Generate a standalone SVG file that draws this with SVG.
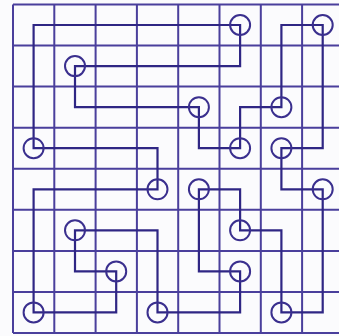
<svg xmlns="http://www.w3.org/2000/svg" width="339" height="336" viewBox="0 0 339 336">
<style>
.grid{stroke:#4a3f9c;stroke-width:2;fill:none}
.loop{stroke:#2f2684;stroke-width:2.2;fill:none;stroke-linejoin:miter}
.node circle{stroke:#3a2f8e;stroke-width:2;fill:none}
</style>
<rect width="339" height="336" fill="#fbfbfd"/>
<g id="grid" class="grid">
<path d="M13 4.5V333M54.3 4.5V333M95.6 4.5V333M136.9 4.5V333M178.2 4.5V333M219.5 4.5V333M260.8 4.5V333M302.1 4.5V333"/>
<path d="M13 4.5H339M13 45.6H339M13 86.6H339M13 127.7H339M13 168.7H339M13 209.8H339M13 250.9H339M13 291.9H339M13 333H339"/>
</g>
<g id="connectors">
<path class="loop" d="M157.5 189.3V148.2H33.6V25H240.1V66.1H75V107.2H198.9V148.2H240.1V107.2H281.4V25H322.7V148.2H281.4V189.3H322.7V312.4H281.4V230.3H240.1V189.3H198.9V271.4H240.1V312.4H157.5V230.3H75V271.4H116.2V312.4H33.6V189.3Z"/>
</g>
<g id="n1" class="node"><circle cx="240.1" cy="25" r="10"/></g>
<g id="n2" class="node"><circle cx="322.7" cy="25" r="10"/></g>
<g id="n3" class="node"><circle cx="75" cy="66.1" r="10"/></g>
<g id="n4" class="node"><circle cx="198.9" cy="107.2" r="10"/></g>
<g id="n5" class="node"><circle cx="281.4" cy="107.2" r="10"/></g>
<g id="n6" class="node"><circle cx="33.6" cy="148.2" r="10"/></g>
<g id="n7" class="node"><circle cx="240.1" cy="148.2" r="10"/></g>
<g id="n8" class="node"><circle cx="281.4" cy="148.2" r="10"/></g>
<g id="n9" class="node"><circle cx="157.5" cy="189.3" r="10"/></g>
<g id="n10" class="node"><circle cx="198.9" cy="189.3" r="10"/></g>
<g id="n11" class="node"><circle cx="322.7" cy="189.3" r="10"/></g>
<g id="n12" class="node"><circle cx="75" cy="230.3" r="10"/></g>
<g id="n13" class="node"><circle cx="240.1" cy="230.3" r="10"/></g>
<g id="n14" class="node"><circle cx="116.2" cy="271.4" r="10"/></g>
<g id="n15" class="node"><circle cx="240.1" cy="271.4" r="10"/></g>
<g id="n16" class="node"><circle cx="33.6" cy="312.4" r="10"/></g>
<g id="n17" class="node"><circle cx="157.5" cy="312.4" r="10"/></g>
<g id="n18" class="node"><circle cx="281.4" cy="312.4" r="10"/></g>
</svg>
